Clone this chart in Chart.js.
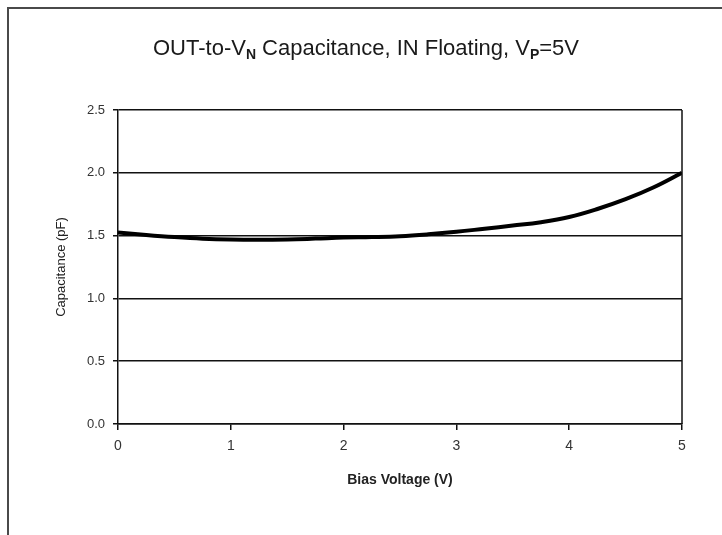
<!DOCTYPE html>
<html>
<head>
<meta charset="utf-8">
<script src="https://cdn.jsdelivr.net/npm/chart.js@4"></script>
<style>
  html, body { margin: 0; padding: 0; background: #fff; }
  #wrap { position: relative; width: 722px; height: 535px; }
</style>
</head>
<body>
<div id="wrap"><canvas id="c" width="722" height="535"></canvas></div>
<script>
// ---- data ----
const biasVoltage = [0, 0.25, 0.5, 0.75, 1, 1.25, 1.5, 1.75, 2, 2.25, 2.5, 2.75, 3, 3.25, 3.5, 3.75, 4, 4.25, 4.5, 4.75, 5];
const capacitance = [1.525, 1.505, 1.488, 1.475, 1.468, 1.466, 1.469, 1.476, 1.484, 1.488, 1.495, 1.51, 1.53, 1.555, 1.58, 1.607, 1.648, 1.712, 1.79, 1.885, 2.0];
const titleParts = [
  { text: 'OUT-to-V', sub: false },
  { text: 'N', sub: true },
  { text: ' Capacitance, IN Floating, V', sub: false },
  { text: 'P', sub: true },
  { text: '=5V', sub: false }
];
const xAxisTitle = 'Bias Voltage (V)';
const yAxisTitle = 'Capacitance (pF)';

const FONT = "'Liberation Sans', Arial, Helvetica, sans-serif";

const framePlugin = {
  id: 'frame',
  beforeDraw(chart) {
    const ctx = chart.ctx;
    ctx.save();
    ctx.strokeStyle = '#4a4a4a';
    ctx.lineWidth = 2;
    ctx.beginPath();
    ctx.moveTo(8, 535);
    ctx.lineTo(8, 8);
    ctx.lineTo(722, 8);
    ctx.stroke();
    ctx.restore();
  },
  afterDraw(chart) {
    const ctx = chart.ctx;
    const a = chart.chartArea;
    ctx.save();
    ctx.strokeStyle = '#111';
    ctx.lineWidth = 1.5;
    ctx.beginPath();
    ctx.moveTo(a.right, a.top);
    ctx.lineTo(a.right, a.bottom);
    ctx.stroke();
    // title with subscripts
    const big = '22px ' + FONT, small = 'bold 14px ' + FONT;
    let total = 0;
    titleParts.forEach(p => { ctx.font = p.sub ? small : big; total += ctx.measureText(p.text).width; });
    let x = 366 - total / 2;
    const base = 55;
    ctx.fillStyle = '#1a1a1a';
    ctx.textBaseline = 'alphabetic';
    ctx.textAlign = 'left';
    titleParts.forEach(p => {
      ctx.font = p.sub ? small : big;
      ctx.fillText(p.text, x, p.sub ? base + 4 : base);
      x += ctx.measureText(p.text).width;
    });
    ctx.restore();
  }
};

new Chart(document.getElementById('c'), {
  type: 'line',
  data: {
    datasets: [{
      data: biasVoltage.map((v, i) => ({ x: v, y: capacitance[i] })),
      borderColor: '#000',
      borderWidth: 4,
      pointRadius: 0,
      tension: 0.4,
      fill: false
    }]
  },
  options: {
    responsive: false,
    animation: false,
    layout: { padding: { top: 110, right: 40, left: 0, bottom: 0 } },
    plugins: { legend: { display: false }, title: { display: false }, tooltip: { enabled: false } },
    scales: {
      x: {
        type: 'linear', min: 0, max: 5,
        afterFit(s) { s.height = 111; },
        ticks: { stepSize: 1, color: '#333', padding: 8, font: { family: FONT, size: 14 } },
        grid: { drawOnChartArea: false, drawTicks: true, tickLength: 6, color: '#111', lineWidth: 1.5 },
        border: { color: '#111', width: 1.5 },
        title: { display: true, text: xAxisTitle, color: '#222', font: { family: FONT, size: 14, weight: 'bold' }, padding: { top: 0, bottom: 46 } }
      },
      y: {
        min: 0, max: 2.5,
        afterFit(s) { s.width = 118; },
        ticks: { stepSize: 0.5, color: '#333', padding: 8, font: { family: FONT, size: 13 }, callback: v => v.toFixed(1) },
        grid: { color: '#111', lineWidth: 1.5, tickLength: 5 },
        border: { color: '#111', width: 1.5 },
        title: { display: true, text: yAxisTitle, color: '#222', font: { family: FONT, size: 13 }, padding: { top: 54, bottom: 0 } }
      }
    }
  },
  plugins: [framePlugin]
});
</script>
</body>
</html>
